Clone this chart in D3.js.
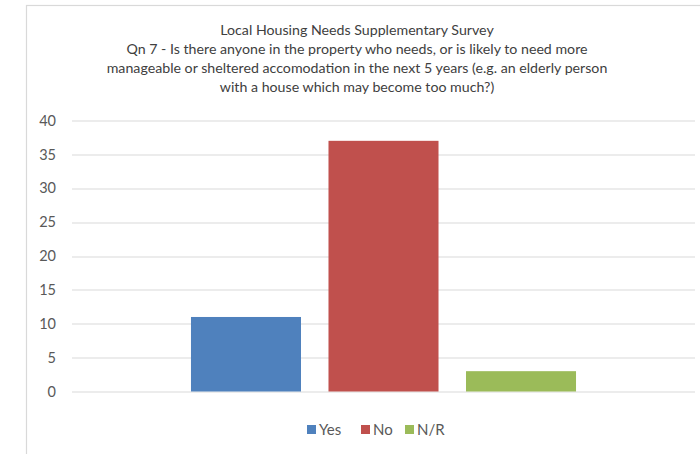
<!DOCTYPE html>
<html>
<head>
<meta charset="utf-8">
<script src="https://cdn.jsdelivr.net/npm/d3@7"></script>
<style>
  body { margin: 0; background: #fff; }
  svg { font-family: Lato, "Open Sans", sans-serif; }
</style>
</head>
<body>
<div id="chart"></div>
<script>
var titleLines = [
  "Local Housing Needs Supplementary Survey",
  "Qn 7 - Is there anyone in the property who needs, or is likely to need more",
  "manageable or sheltered accomodation in the next 5 years (e.g. an elderly person",
  "with a house which may become too much?)"
];
var categories = [""];
var seriesNames = ["Yes", "No", "N/R"];
var seriesValues = [11, 37, 3];
var seriesColors = ["#4F81BD", "#C0504D", "#9BBB59"];
var yTicks = [0, 5, 10, 15, 20, 25, 30, 35, 40];

var W = 700, H = 454;
var margin = {top: 120.5, right: 5, bottom: 62.5, left: 72};
var width = W - margin.left - margin.right,
    height = H - margin.top - margin.bottom;

var svg = d3.select("#chart").append("svg")
    .attr("width", W)
    .attr("height", H);

// chart area border (runs off right and bottom edges)
svg.append("rect")
    .attr("x", 26.5).attr("y", 5.5)
    .attr("width", 700).attr("height", 460)
    .attr("fill", "#fff")
    .attr("stroke", "#D9D9D9")
    .attr("stroke-width", 1.2);

svg.append("text")
    .attr("text-anchor", "middle")
    .attr("font-size", 14.2)
    .attr("fill", "#404040")
  .selectAll("tspan")
  .data(titleLines)
  .enter().append("tspan")
    .attr("x", 357)
    .attr("y", function(d, i) { return 35 + i * 19; })
    .text(function(d) { return d; });

var g = svg.append("g")
    .attr("transform", "translate(" + margin.left + "," + margin.top + ")");

var y = d3.scaleLinear().domain([0, 40]).range([height, 0]);

var x0 = d3.scaleBand().domain(categories).range([0, width]).paddingOuter(0.309);
var x1 = d3.scaleBand().domain(seriesNames).range([0, x0.bandwidth()]).paddingInner(0.2);

// gridlines
g.append("g")
  .selectAll("line")
  .data(yTicks)
  .enter().append("line")
    .attr("x1", 0).attr("x2", width)
    .attr("y1", function(d) { return Math.round(y(d)) + 0.5; })
    .attr("y2", function(d) { return Math.round(y(d)) + 0.5; })
    .attr("stroke", "#D9D9D9")
    .attr("stroke-width", 1.2);

var yAxis = d3.axisLeft(y).tickValues(yTicks).tickSize(0).tickPadding(16);
g.append("g")
    .call(yAxis)
    .call(function(s) { s.select(".domain").remove(); })
    .selectAll("text")
    .attr("font-size", 14.5)
    .attr("font-family", "Lato, 'Open Sans', sans-serif")
    .attr("fill", "#595959");

var data = seriesNames.map(function(n, i) { return {name: n, value: seriesValues[i], color: seriesColors[i]}; });

g.append("g")
    .attr("transform", "translate(" + x0(categories[0]) + ",0)")
  .selectAll("rect")
  .data(data)
  .enter().append("rect")
    .attr("x", function(d) { return x1(d.name); })
    .attr("width", x1.bandwidth())
    .attr("y", function(d) { return y(d.value); })
    .attr("height", function(d) { return height - y(d.value); })
    .attr("fill", function(d) { return d.color; });

// legend
var legendX = [307, 361, 405];
var legend = svg.append("g").attr("transform", "translate(0,430)");
var items = legend.selectAll("g").data(data).enter().append("g")
    .attr("transform", function(d, i) { return "translate(" + legendX[i] + ",0)"; });
items.append("rect")
    .attr("x", 0).attr("y", -5)
    .attr("width", 9).attr("height", 9)
    .attr("fill", function(d) { return d.color; });
items.append("text")
    .attr("x", 12).attr("y", 5)
    .attr("font-size", 15)
    .attr("fill", "#595959")
    .text(function(d) { return d.name; });
</script>
</body>
</html>
